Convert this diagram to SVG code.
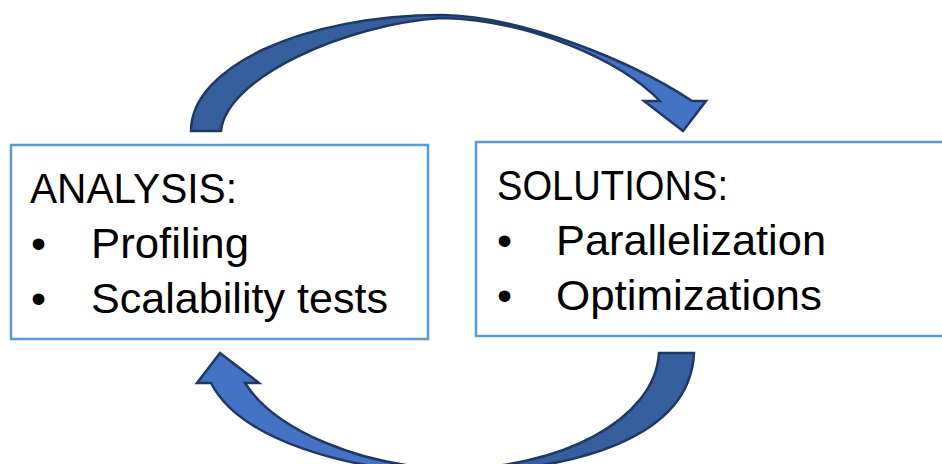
<svg xmlns="http://www.w3.org/2000/svg" width="942" height="464" viewBox="0 0 942 464">
<style>
.box{fill:#ffffff;stroke:#5b9bd5;stroke-width:2.5}
.t{font-family:"Liberation Sans",Arial,sans-serif;font-size:43px;fill:#000000}
.dark{fill:#365f9e}
.light{fill:#4472c4}
.outline{fill:none;stroke:#1f3864;stroke-width:2.5;stroke-linejoin:miter}
</style>
<rect width="942" height="464" fill="#ffffff"/>
<g id="connectors">
  <g id="arrow-top">
    <path class="dark" d="M191,131 C191,67 303,15 442,15 L442,18 C345,24 226,78 221,131 Z"/>
    <path class="light" d="M442,15 C520,16 630,60 692,101 L706,101 L683,131 L644,101 L660,101 C620,60 530,20 442,18 Z"/>
    <path class="outline" d="M191,131 C191,67 303,15 442,15 C520,16 630,60 692,101 L706,101 L683,131 L644,101 L660,101 C620,60 530,20 442,18 C345,24 226,78 221,131 Z"/>
  </g>
  <g id="arrow-bottom">
    <path class="dark" d="M694,353 C690,440 570,472 449,472 L449,469 C560,469 655,420 659,353 Z"/>
    <path class="light" d="M449,472 C350,472 240,440 211,383 L197,383 L220,353 L259,383 L245,383 C275,430 360,466 449,469 Z"/>
    <path class="outline" d="M694,353 C690,440 570,472 449,472 C350,472 240,440 211,383 L197,383 L220,353 L259,383 L245,383 C275,430 360,466 449,469 C560,469 655,420 659,353 Z"/>
  </g>
</g>
<g id="analysis">
  <rect class="box" x="11" y="145" width="417" height="194"/>
  <text class="t" x="30" y="203" textLength="207" lengthAdjust="spacingAndGlyphs">ANALYSIS:</text>
  <text class="t" x="31" y="258">•</text>
  <text class="t" x="91" y="258" textLength="158" lengthAdjust="spacingAndGlyphs">Profiling</text>
  <text class="t" x="31" y="313">•</text>
  <text class="t" x="91" y="313" textLength="297" lengthAdjust="spacingAndGlyphs">Scalability tests</text>
</g>
<g id="solutions">
  <rect class="box" x="476" y="142" width="475" height="194"/>
  <text class="t" x="497" y="200" textLength="231" lengthAdjust="spacingAndGlyphs">SOLUTIONS:</text>
  <text class="t" x="497" y="255">•</text>
  <text class="t" x="556" y="255" textLength="270" lengthAdjust="spacingAndGlyphs">Parallelization</text>
  <text class="t" x="497" y="310">•</text>
  <text class="t" x="556" y="310" textLength="266" lengthAdjust="spacingAndGlyphs">Optimizations</text>
</g>
</svg>
